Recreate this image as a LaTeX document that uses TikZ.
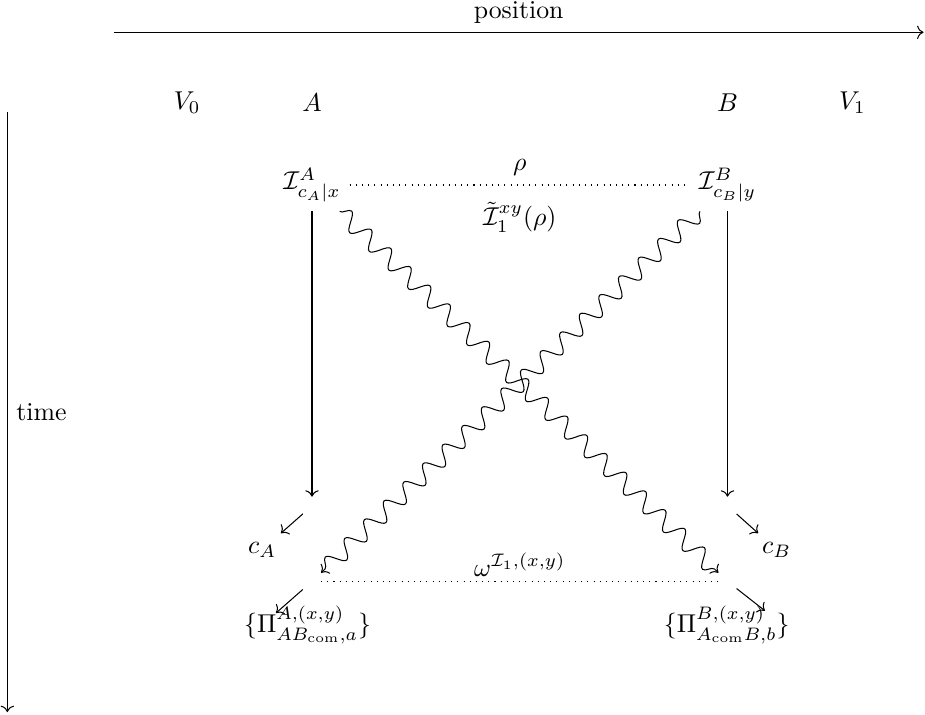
\documentclass[tikz,border=0pt]{standalone}
\usepackage{amsmath,amssymb}
\usepackage{tikz}
\usetikzlibrary{arrows.meta,decorations.pathmorphing}

\begin{document}
\begin{tikzpicture}[flow/.style={-{To}},signal/.style={-{To},decorate,decoration={snake,amplitude=3.3pt,segment length=10.5pt}}]
  \useasboundingbox (-7.08,-7.21) rectangle (5.52,2.52);

  % Axes
  \coordinate (p0) at (-5.53,2.08);
  \coordinate (p1) at (5.5,2.08);
  \draw[flow] (p0) -- node[above] (pos) {position} (p1);
  \coordinate (t0) at (-6.98,0.99);
  \coordinate (t1) at (-6.98,-7.18);
  \draw[flow] (t0) -- node[right] (time) {time} (t1);

  % Regions
  \node (v0) at (-4.53,1.12) {$V_0$};
  \node (a) at (-2.83,1.12) {$A$};
  \node (b) at (2.83,1.12) {$B$};
  \node (v1) at (4.53,1.12) {$V_1$};

  % Instruments
  \node (ia) at (-2.83,0) {$\mathcal{I}^A_{c_A|x}$};
  \node (ib) at (2.83,0) {$\mathcal{I}^B_{c_B|y}$};
  \draw[dotted] (ia) -- node[above] (rho) {$\rho$} node[below=3pt] (irho) {$\tilde{\mathcal{I}}^{xy}_1(\rho)$} (ib);

  % Outcomes
  \node (ea2) at (-2.83,-4.37) {};
  \node (eb2) at (2.83,-4.37) {};
  \node (ea3) at (-2.83,-5.40) {};
  \node (eb3) at (2.83,-5.40) {};
  \draw[flow] (ia) -- (ea2);
  \draw[flow] (ib) -- (eb2);
  \node (ca) at (-3.51,-4.97) {$c_A$};
  \node (cb) at (3.50,-4.97) {$c_B$};
  \draw[flow] (ea2) -- (ca);
  \draw[flow] (eb2) -- (cb);

  % Signals
  \draw[signal] (ia) -- (eb3);
  \draw[signal] (ib) -- (ea3);

  % Post-measurement
  \draw[dotted] (ea3) -- node[above=-1.5pt] (om) {$\omega^{\mathcal{I}_1,(x,y)}$} (eb3);
  \node (pia) at (-2.89,-5.99) {$\{\Pi^{A,(x,y)}_{AB_{\text{com}},a}\}$};
  \node (pib) at (2.82,-5.99) {$\{\Pi^{B,(x,y)}_{A_{\text{com}}B,b}\}$};
  \coordinate (pa) at (-3.32,-5.83);
  \coordinate (pb) at (3.34,-5.80);
  \draw[flow] (ea3) -- (pa);
  \draw[flow] (eb3) -- (pb);
\end{tikzpicture}
\end{document}
